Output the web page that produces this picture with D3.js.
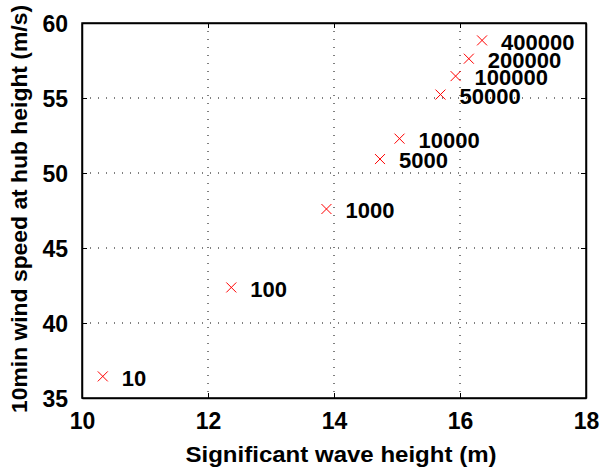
<!DOCTYPE html>
<html>
<head>
<meta charset="utf-8">
<script src="https://cdn.jsdelivr.net/npm/d3@7"></script>
<style>
  body { margin: 0; background: #fff; }
  text { font-family: "Liberation Sans", Arial, sans-serif; font-weight: bold; fill: #000; }
</style>
</head>
<body>
<div id="chart"></div>
<script>
// Return periods and the matching sea state / wind speed
const labels = ["10", "100", "1000", "5000", "10000", "50000", "100000", "200000", "400000"];
const waveHeight = [10.33, 12.37, 13.88, 14.73, 15.04, 15.69, 15.93, 16.14, 16.35];
const windSpeed = [36.44, 42.37, 47.6, 50.93, 52.29, 55.23, 56.46, 57.62, 58.84];

const xTicks = [10, 12, 14, 16, 18];
const yTicks = [35, 40, 45, 50, 55, 60];

const margin = { top: 23, right: 14, bottom: 71, left: 82 },
      width = 600 - margin.left - margin.right,
      height = 469 - margin.top - margin.bottom;

const svg = d3.select("#chart").append("svg")
    .attr("width", 600)
    .attr("height", 469)
  .append("g")
    .attr("transform", "translate(" + margin.left + "," + margin.top + ")");

const x = d3.scaleLinear().domain([10, 18]).range([0, width]);
const y = d3.scaleLinear().domain([35, 60]).range([height, 0]);

// dotted grid
svg.append("g").selectAll("line")
    .data(xTicks.slice(1, -1))
    .join("line")
      .attr("x1", d => x(d)).attr("x2", d => x(d))
      .attr("y1", 0).attr("y2", height)
      .attr("stroke", "#000").attr("stroke-width", 1)
      .attr("stroke-dasharray", "1,7");
svg.append("g").selectAll("line")
    .data(yTicks.slice(1, -1))
    .join("line")
      .attr("y1", d => y(d)).attr("y2", d => y(d))
      .attr("x1", 0).attr("x2", width)
      .attr("stroke", "#000").attr("stroke-width", 1)
      .attr("stroke-dasharray", "1,7");

// axes, ticks pointing inwards on all four sides
const tickLen = 5;
const xAxis = svg.append("g")
    .attr("transform", "translate(0," + height + ")")
    .call(d3.axisBottom(x).tickValues(xTicks).tickSizeInner(-tickLen).tickSizeOuter(0).tickPadding(15));
const yAxis = svg.append("g")
    .call(d3.axisLeft(y).tickValues(yTicks).tickSizeInner(-tickLen).tickSizeOuter(0).tickPadding(14));
svg.append("g")
    .call(d3.axisTop(x).tickValues(xTicks).tickSizeInner(-tickLen).tickSizeOuter(0).tickFormat(""));
svg.append("g")
    .attr("transform", "translate(" + width + ",0)")
    .call(d3.axisRight(y).tickValues(yTicks).tickSizeInner(-tickLen).tickSizeOuter(0).tickFormat(""));

svg.selectAll(".domain").attr("stroke", "#000").attr("stroke-width", 1.5);
svg.selectAll(".tick line").attr("stroke", "#000");
svg.selectAll(".tick text").style("font-size", "23px").attr("fill", "#000");
xAxis.selectAll(".tick text").attr("dy", "0.71em");
yAxis.selectAll(".tick text").attr("dy", "0.36em");

// box
svg.append("rect")
    .attr("width", width).attr("height", height)
    .attr("fill", "none").attr("stroke", "#000").attr("stroke-width", 1.5);

// markers
const pts = labels.map((l, i) => ({ label: l, x: waveHeight[i], y: windSpeed[i] }));
const m = 5;
const mark = svg.append("g").selectAll("g")
    .data(pts)
    .join("g")
      .attr("transform", d => "translate(" + x(d.x) + "," + y(d.y) + ")");
mark.append("path")
    .attr("d", "M" + -m + "," + -m + "L" + m + "," + m + "M" + -m + "," + m + "L" + m + "," + -m)
    .attr("stroke", "#ff0000").attr("stroke-width", 1).attr("fill", "none");
mark.append("text")
    .attr("x", 19)
    .attr("dy", "0.42em")
    .style("font-size", "22px")
    .text(d => d.label);

// axis titles
svg.append("text")
    .attr("x", 259)
    .attr("y", height + 64)
    .attr("text-anchor", "middle")
    .attr("textLength", 311)
    .attr("lengthAdjust", "spacingAndGlyphs")
    .style("font-size", "22px")
    .text("Significant wave height (m)");
svg.append("text")
    .attr("transform", "translate(" + (-55) + "," + 186 + ") rotate(-90)")
    .attr("text-anchor", "middle")
    .attr("textLength", 408)
    .attr("lengthAdjust", "spacingAndGlyphs")
    .style("font-size", "22px")
    .text("10min wind speed at hub height (m/s)");
</script>
</body>
</html>
